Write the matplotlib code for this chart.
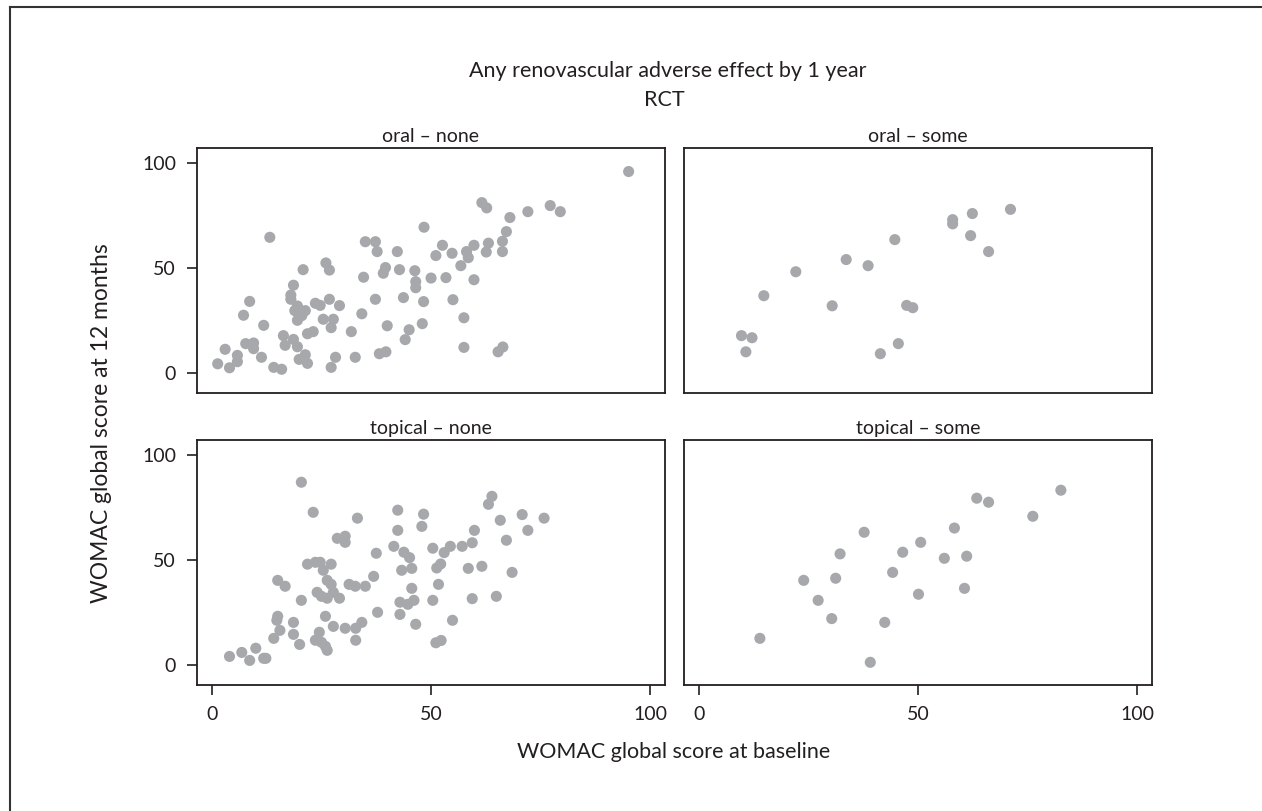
import matplotlib
matplotlib.use("Agg")
import matplotlib.pyplot as plt
from matplotlib.lines import Line2D

plt.rcParams['font.family'] = ['Lato', 'DejaVu Sans']

# --- data ---------------------------------------------------------------
oral_none_x = [1.3, 4.0, 3.0, 5.8, 5.8, 7.2, 8.6, 7.7, 9.5, 9.5, 11.3, 11.8, 13.2, 14.1, 15.9,
               16.3, 16.7, 18.6, 19.5, 18.6, 18.0, 18.0, 19.5, 18.9, 21.3, 19.5, 20.5, 20.8,
               19.9, 21.3, 21.8, 21.8, 23.1, 23.6, 24.7, 26.0, 26.8, 26.8, 25.4, 27.7, 27.2,
               29.1, 28.2, 27.2, 31.8, 32.7, 34.2, 34.6, 35.0, 37.3, 37.7, 37.3, 38.2, 39.7,
               39.6, 39.1, 40.0, 42.3, 42.8, 43.7, 45.0, 44.1, 46.3, 46.5, 46.5, 48.3, 48.0,
               48.4, 50.0, 95.1, 61.6, 62.7, 68.0, 72.1, 77.2, 79.5, 67.2, 66.3, 66.3, 63.1,
               62.6, 59.8, 58.1, 58.5, 56.8, 54.8, 52.6, 51.1, 53.4, 59.8, 55.0, 57.5, 57.5,
               65.3, 66.4]
oral_none_y = [4.4, 2.5, 11.3, 8.4, 5.4, 27.5, 34.1, 14.0, 14.3, 11.6, 7.5, 22.7, 64.6, 2.7, 1.8,
               17.8, 13.2, 16.0, 12.5, 41.8, 37.1, 35.1, 31.9, 29.7, 29.7, 25.1, 27.3, 49.2,
               6.5, 8.7, 4.6, 18.7, 19.7, 33.2, 32.2, 52.4, 49.0, 35.1, 25.6, 25.6, 21.6,
               32.1, 7.5, 2.7, 19.7, 7.5, 28.2, 45.6, 62.5, 62.5, 57.8, 35.1, 9.2, 10.1,
               50.2, 47.5, 22.5, 57.8, 49.2, 35.9, 20.6, 15.9, 48.7, 43.5, 40.6, 34.0, 23.5,
               69.4, 45.2, 95.9, 81.1, 78.6, 74.0, 76.8, 79.7, 76.8, 67.3, 62.7, 57.8, 61.8,
               57.6, 60.8, 57.8, 54.9, 51.1, 57.0, 60.8, 55.9, 45.4, 44.4, 34.9, 26.3, 12.2,
               10.1, 12.4]

oral_some_x = [9.7, 12.1, 10.7, 14.8, 22.1, 30.4, 33.6, 38.6, 44.7, 41.4, 45.5, 47.4, 48.8,
               57.9, 57.9, 62.4, 62.0, 66.1, 71.1]
oral_some_y = [17.8, 16.8, 10.1, 36.8, 48.2, 32.0, 54.0, 51.1, 63.5, 9.2, 14.0, 32.2, 31.1,
               73.0, 71.0, 75.9, 65.4, 57.8, 77.9]

topical_none_x = [4.0, 6.8, 8.6, 10.0, 11.8, 12.3, 14.1, 15.5, 14.8, 15.0, 15.0, 16.7, 18.6,
                  18.6, 20.0, 20.4, 20.4, 23.1, 21.8, 23.6, 24.7, 25.4, 27.2, 26.3, 27.2, 24.0,
                  25.0, 26.3, 27.7, 29.1, 25.9, 24.5, 23.6, 25.0, 25.9, 26.3, 27.7, 30.4, 32.8,
                  34.2, 32.8, 28.6, 30.4, 30.4, 33.2, 31.3, 32.7, 35.0, 36.9, 37.5, 37.8, 41.5,
                  42.4, 42.4, 43.8, 45.1, 45.6, 43.3, 45.6, 46.1, 42.9, 44.7, 42.9, 46.5, 48.3,
                  47.9, 50.4, 53.0, 54.4, 57.1, 59.4, 59.9, 63.9, 63.1, 65.8, 70.8, 72.1, 75.8,
                  67.2, 51.3, 52.2, 51.7, 50.4, 58.5, 61.6, 68.5, 59.4, 64.9, 54.9, 51.1, 52.3]
topical_none_y = [4.1, 6.0, 2.2, 8.0, 3.2, 3.2, 12.7, 16.5, 21.3, 23.2, 40.3, 37.5, 20.3,
                  14.6, 9.8, 30.8, 87.0, 72.7, 48.0, 48.9, 48.9, 45.1, 48.0, 40.3, 38.4, 34.6,
                  32.7, 31.8, 34.6, 31.8, 23.2, 15.6, 11.8, 10.8, 8.9, 7.0, 18.4, 17.5, 17.5,
                  20.3, 11.8, 60.3, 61.3, 58.4, 69.9, 38.4, 37.5, 37.5, 42.2, 53.2, 25.1, 56.5,
                  73.7, 64.1, 53.7, 51.1, 46.0, 45.1, 36.5, 30.8, 29.9, 28.9, 24.1, 19.4, 71.8,
                  66.0, 55.6, 53.5, 56.5, 56.5, 58.2, 64.1, 80.3, 76.5, 68.9, 71.6, 64.1, 69.9,
                  59.4, 46.2, 48.1, 38.4, 30.8, 46.0, 47.0, 44.1, 31.6, 32.7, 21.3, 10.6, 11.7]

topical_some_x = [13.9, 23.9, 27.2, 30.3, 31.2, 32.2, 37.7, 39.1, 42.4, 44.2, 46.5, 50.1, 50.6,
                  56.0, 58.3, 60.6, 61.1, 63.4, 66.1, 76.2, 82.6]
topical_some_y = [12.7, 40.3, 30.8, 22.1, 41.3, 52.9, 63.2, 1.3, 20.3, 44.1, 53.7, 33.7, 58.4,
                  50.8, 65.2, 36.5, 51.8, 79.4, 77.5, 70.8, 83.2]

panel_titles = ["oral \u2013 none", "oral \u2013 some", "topical \u2013 none", "topical \u2013 some"]
ticks = [0, 50, 100]

# --- figure -------------------------------------------------------------
W, H = 1262, 811
fig = plt.figure(figsize=(W / 100, H / 100), dpi=100)
txt = "#231f20"
marker_col = "#a7a8ab"

def rect(x0, y0, x1, y1):
    return [x0 / W, 1 - y1 / H, (x1 - x0) / W, (y1 - y0) / H]

boxes = [rect(197, 148, 665, 393), rect(684, 148, 1152, 393),
         rect(197, 440, 665, 685), rect(684, 440, 1152, 685)]
data = [(oral_none_x, oral_none_y), (oral_some_x, oral_some_y),
        (topical_none_x, topical_none_y), (topical_some_x, topical_some_y)]

for i, (box, (xs, ys), title) in enumerate(zip(boxes, data, panel_titles)):
    ax = fig.add_axes(box)
    ax.scatter(xs, ys, s=64, color=marker_col, edgecolors='none', zorder=3)
    ax.set_xlim(-3.42, 103.4)
    ax.set_ylim(-9.5, 107.1)
    ax.set_xticks(ticks)
    ax.set_yticks(ticks)
    for sp in ax.spines.values():
        sp.set_linewidth(1.3)
        sp.set_color(txt)
    ax.tick_params(direction='out', length=7, width=1.2, color=txt,
                   labelsize=14, labelcolor=txt, pad=8)
    if i % 2 == 1:
        ax.tick_params(axis='y', left=False, labelleft=False)
    if i < 2:
        ax.tick_params(axis='x', bottom=False, labelbottom=False)
    ax.set_title(title, fontsize=14, color=txt, pad=4)

fs = 15.5
fig.text(668 / W, 1 - 71 / H, "Any renovascular adverse effect by 1 year",
         ha='center', va='center', fontsize=fs, color=txt)
fig.text(664 / W, 1 - 100 / H, "RCT", ha='center', va='center', fontsize=fs, color=txt)
fig.text(674 / W, 1 - 752 / H, "WOMAC global score at baseline",
         ha='center', va='center', fontsize=fs, color=txt)
fig.text(102 / W, 1 - 423 / H, "WOMAC global score at 12 months",
         ha='center', va='center', rotation=90, fontsize=16.5, color=txt)

# outer frame (top and left visible)
fig.add_artist(Line2D([10 / W, 1.0], [1 - 7 / H, 1 - 7 / H], color="#333333", lw=1.5))
fig.add_artist(Line2D([10 / W, 10 / W], [0.0, 1 - 7 / H], color="#333333", lw=1.5))

fig.savefig("out.png", dpi=100, facecolor='white')
